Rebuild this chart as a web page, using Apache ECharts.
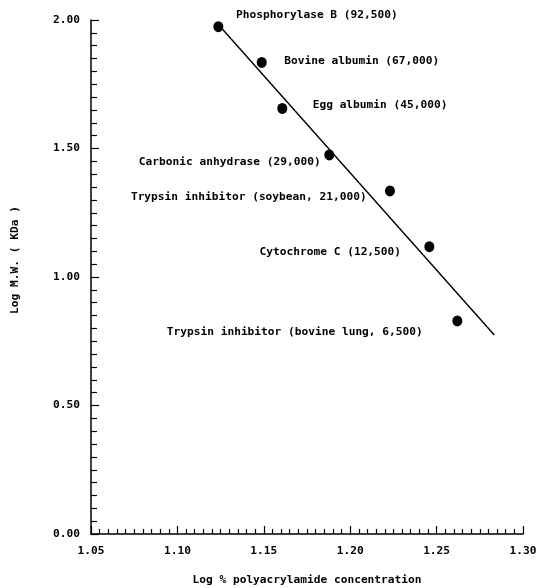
<!DOCTYPE html>
<html>
<head>
<meta charset="utf-8">
<script src="https://cdn.jsdelivr.net/npm/echarts@6/dist/echarts.min.js"></script>
<style>html,body{margin:0;padding:0;background:#fff;}#c{width:547px;height:588px;}</style>
</head>
<body>
<div id="c"></div>
<script>
// Data
const proteins = [
  'Phosphorylase B (92,500)',
  'Bovine albumin (67,000)',
  'Egg albumin (45,000)',
  'Carbonic anhydrase (29,000)',
  'Trypsin inhibitor (soybean, 21,000)',
  'Cytochrome C (12,500)',
  'Trypsin inhibitor (bovine lung, 6,500)'
];
const logConc = [1.1237, 1.1488, 1.1607, 1.1879, 1.2230, 1.2458, 1.2620];
const logMW = [1.974, 1.835, 1.656, 1.475, 1.335, 1.118, 0.829];
const fitX = [1.1256, 1.2834];
const fitY = [1.968, 0.774];
const xTicks = [1.05, 1.10, 1.15, 1.20, 1.25, 1.30];
const yTicks = [0.00, 0.50, 1.00, 1.50, 2.00];

// label placement (style only)
const labelPlace = [
  {pos: 'right', off: [12.7, -12]},
  {pos: 'right', off: [17.6, -1.6]},
  {pos: 'right', off: [25.4, -3.3]},
  {pos: 'left', off: [-3.6, 6.7]},
  {pos: 'left', off: [-18.3, 5.7]},
  {pos: 'left', off: [-23.3, 5]},
  {pos: 'left', off: [-29.6, 11.3]}
];

const FONT = 'DejaVu Sans Mono';
const FS = 11.2;
const chart = echarts.init(document.getElementById('c'), null, {renderer: 'canvas'});
chart.setOption({
  animation: false,
  backgroundColor: '#fff',
  grid: {left: 91, right: 24, top: 20, bottom: 54, containLabel: false, outerBoundsMode: 'none'},
  xAxis: {
    type: 'value', min: xTicks[0], max: xTicks[xTicks.length - 1], interval: 0.05,
    name: 'Log % polyacrylamide concentration', nameLocation: 'middle', nameGap: 41,
    nameTextStyle: {fontFamily: FONT, fontWeight: 'bold', fontSize: FS, color: '#000'},
    axisLine: {lineStyle: {color: '#000', width: 1.5}},
    axisTick: {inside: true, length: 8, lineStyle: {color: '#000', width: 1.2}},
    minorTick: {show: true, splitNumber: 10, length: 5, lineStyle: {color: '#000', width: 1.2}},
    splitLine: {show: false},
    axisLabel: {margin: 12, fontFamily: FONT, fontWeight: 'bold', fontSize: FS, color: '#000',
      formatter: v => v.toFixed(2)}
  },
  yAxis: {
    type: 'value', min: yTicks[0], max: yTicks[yTicks.length - 1], interval: 0.5,
    axisLine: {show: true, lineStyle: {color: '#000', width: 1.5}},
    axisTick: {show: true, inside: true, length: 8, lineStyle: {color: '#000', width: 1.2}},
    minorTick: {show: true, splitNumber: 10, length: 6, lineStyle: {color: '#000', width: 1.2}},
    splitLine: {show: false},
    axisLabel: {margin: 11, fontFamily: FONT, fontWeight: 'bold', fontSize: FS, color: '#000',
      formatter: v => v.toFixed(2)}
  },
  graphic: [{
    type: 'text', x: 15, y: 260, rotation: Math.PI / 2,
    style: {text: 'Log M.W. ( KDa )', fontFamily: FONT, fontWeight: 'bold', fontSize: FS,
      fill: '#000', align: 'center', verticalAlign: 'middle'}
  }],
  series: [
    {
      type: 'line', data: fitX.map((x, i) => [x, fitY[i]]), symbol: 'none',
      lineStyle: {color: '#000', width: 1.4}, silent: true, z: 1
    },
    {
      type: 'scatter', symbol: 'circle', symbolSize: [10, 11], z: 2,
      itemStyle: {color: '#000', opacity: 1},
      data: logConc.map((x, i) => ({
        value: [x, logMW[i]], name: proteins[i],
        label: {show: true, position: labelPlace[i].pos, distance: 0, offset: labelPlace[i].off,
          formatter: proteins[i], fontFamily: FONT, fontWeight: 'bold', fontSize: FS, color: '#000'}
      }))
    }
  ]
});
</script>
</body>
</html>
